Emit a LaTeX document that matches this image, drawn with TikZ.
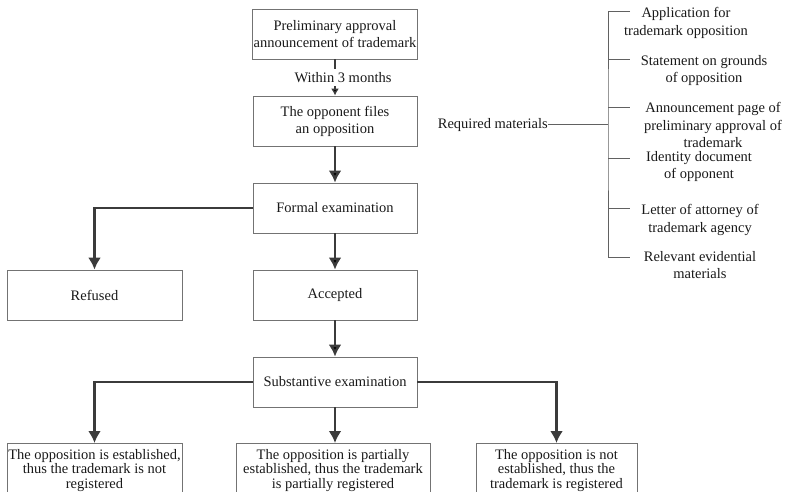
\documentclass[tikz,border=0pt]{standalone}
\usepackage{fontspec}
\setmainfont{Liberation Serif}
\usepackage{tikz}
\usetikzlibrary{arrows.meta, positioning}

\begin{document}
\begin{tikzpicture}[x=1pt, y=1pt,
        box/.style={rectangle, draw=black!55, line width=0.8pt, text=black!90, minimum width=164pt, minimum height=50pt, inner xsep=1pt, inner ysep=2pt, align=center, font=\fontsize{14.5}{17}\selectfont},
        result/.style={box, minimum height=54pt, anchor=north, font=\fontsize{14.5}{14.5}\selectfont},
        item/.style={align=center, inner sep=0pt, text=black!90, font=\fontsize{14.5}{17.3}\selectfont},
        flow/.style={draw=black!77, line width=2.6pt, -{Latex[length=12pt, width=13pt]}},
        branch/.style={draw=black!62, line width=1pt}]
        \useasboundingbox (0,0) rectangle (789,-492);
        % main line of the procedure
        \node[box] (prelim) at (335,-34) {Preliminary approval\\announcement of trademark};
        \node[box] (opp) [below = 36.2pt of prelim] {The opponent files\\an opposition};
        \node[box] (formal) [below = 36.2pt of opp] {Formal examination};
        \node[box] (accepted) [below = 36.2pt of formal] {Accepted};
        \node[box, minimum width=175pt] (refused) [left = 70.2pt of accepted] {Refused};
        \node[box] (subst) [below = 36.2pt of accepted] {Substantive examination};

        \node[result, minimum width=175pt] (est) at (94.5,-443) {The opposition is established,\\thus the trademark is not\\registered};
        \node[result, minimum width=194pt] (partial) at (333,-443) {The opposition is partially\\established, thus the trademark\\is partially registered};
        \node[result, minimum width=161pt] (notest) at (556.5,-443) {The opposition is not\\established, thus the\\trademark is registered};

        \path[draw=black!77, line width=1.5pt, -{Latex[length=7pt, width=8pt]}] (prelim) edge node[fill=white, xshift=8pt, text=black!90, font=\fontsize{14.5}{17}\selectfont] {Within 3 months} (opp);
        \path[flow] (opp) edge (formal);
        \path[flow] (formal) edge (accepted);
        \path[flow] (accepted) edge (subst);
        \draw[flow] (formal.west) -| (refused.north);
        \draw[flow] (subst.west) -| (est.north);
        \draw[flow] (subst.south) -- (subst.south |- partial.north);
        \draw[flow] (subst.east) -| (notest.north);

        % required materials
        \node[item, anchor=east] (req) at (548,-125) {Required materials};
        \coordinate (sp) at (608,-125);
        \coordinate (b1) at (630,-12);
        \coordinate (b2) at (630,-60);
        \coordinate (b3) at (630,-108);
        \coordinate (b4) at (630,-158);
        \coordinate (b5) at (630,-208);
        \coordinate (b6) at (630,-257);
        \draw[branch] (req) -- (sp);
        \draw[branch] (b1) -| (sp) |- (b6);
        \foreach \b in {b2,b3,b4,b5}
            \draw[branch] (sp |- \b) -- (\b);

        \node[item] (m1) at (686,-23) {Application for\\trademark opposition};
        \node[item] (m2) at (704,-70.5) {Statement on grounds\\of opposition};
        \node[item] (m3) at (713,-125) {Announcement page of\\preliminary approval of\\trademark};
        \node[item] (m4) at (699,-166.5) {Identity document\\of opponent};
        \node[item] (m5) at (700,-220) {Letter of attorney of\\trademark agency};
        \node[item] (m6) at (700,-265) {Relevant evidential\\materials};
    \end{tikzpicture}
\end{document}
